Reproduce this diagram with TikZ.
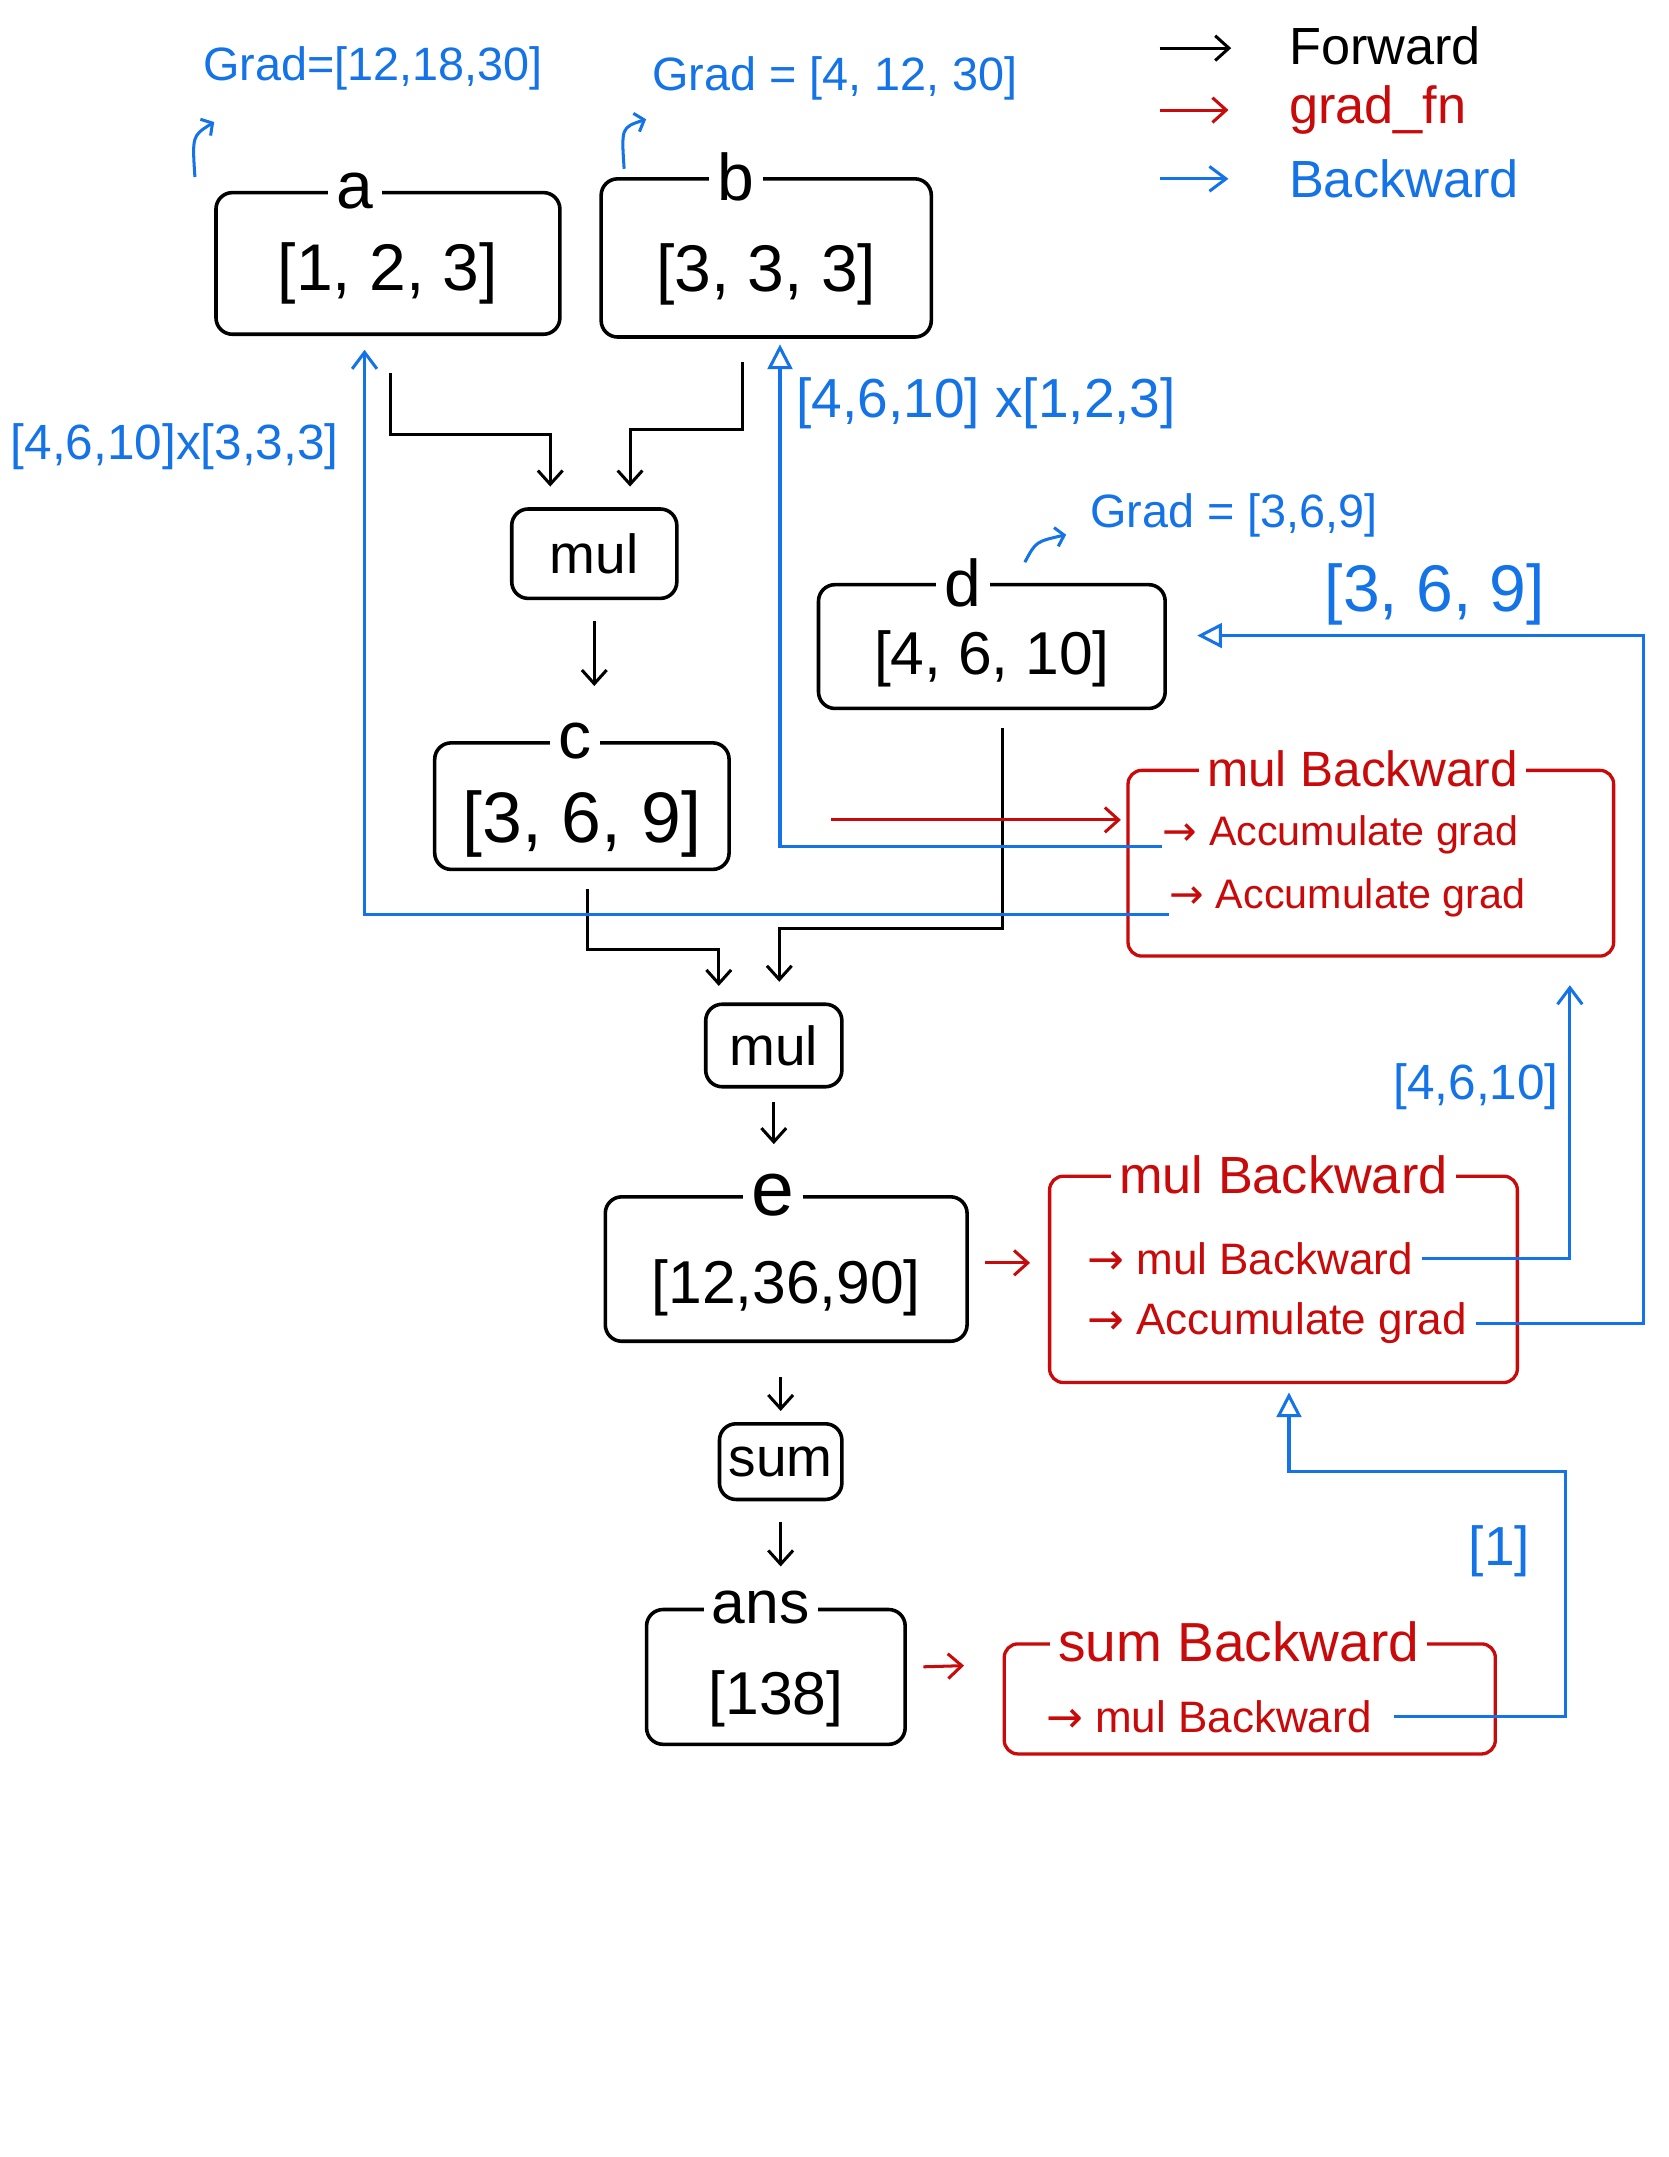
\documentclass[tikz,border=0pt]{standalone}
\usepackage{fontspec}
\setmainfont{Liberation Sans}
\newfontfamily\symf{DejaVu Sans}
\usetikzlibrary{arrows.meta,calc}
\definecolor{bwdblue}{RGB}{20,115,230}
\definecolor{gradred}{RGB}{200,10,10}
\newcommand{\fsz}[1]{\fontsize{#1}{#1}\selectfont}
\newcommand{\ar}{{\symf →}}
\begin{document}
\begin{tikzpicture}[x=0.5pt,y=-0.5pt,
  box/.style={draw, line width=1.3pt, rounded corners=6pt, inner sep=0pt},
  rbox/.style={draw=gradred, line width=1.2pt, rounded corners=5pt, inner sep=0pt},
  lbl/.style={fill=white, inner sep=3pt},
  rtxt/.style={text=gradred},
  btxt/.style={text=bwdblue},
  fwd/.style={draw, line width=1.1pt, -{Straight Barb[length=5pt,width=9pt]}},
  fn/.style={draw=gradred, line width=1.1pt, -{Straight Barb[length=5pt,width=9pt]}},
  bwd/.style={draw=bwdblue, line width=1.1pt, -{Straight Barb[length=6pt,width=9pt]}},
  bwdtri/.style={draw=bwdblue, line width=1.1pt, -{Triangle[open,length=9pt,width=9pt]}}
]
\useasboundingbox[fill=white] (0,0) rectangle (1213,1568);

% legend
\node[anchor=west, font=\fsz{19}] (lf) at (930,33) {Forward};
\node[anchor=west, rtxt, font=\fsz{19}] (lg) at (930,80) {grad\_fn};
\node[anchor=west, btxt, font=\fsz{19}] (lb) at (930,130) {Backward};
\draw[fwd] ([xshift=-43.5pt,yshift=-1pt]lf.west) -- ([xshift=-17.5pt,yshift=-1pt]lf.west);
\draw[fn] ([xshift=-43.5pt]lg.west) -- ([xshift=-18.5pt]lg.west);
\draw[bwd] ([xshift=-43.5pt]lb.west) -- ([xshift=-18.5pt]lb.west);

% grad labels
\node[btxt, font=\fsz{17}] (ga) at (271,50) {Grad=[12,18,30]};
\node[btxt, font=\fsz{17}] (gb) at (607,57) {Grad = [4, 12, 30]};
\node[btxt, font=\fsz{17}] (gd) at (897,375) {Grad = [3,6,9]};

% tensor / op boxes
\node[box, minimum width=125pt, minimum height=51.5pt] (a) at (282,191.5) {};
\node[font=\fsz{24}] (av) at ([yshift=-3.5pt]a.center) {[1, 2, 3]};
\node[lbl, font=\fsz{24}] (alab) at ([xshift=-12pt]a.north) {a};
\node[box, minimum width=120pt, minimum height=57.5pt] (b) at (557,187.5) {};
\node[font=\fsz{24}] (bv) at ([yshift=-6pt]b.center) {[3, 3, 3]};
\node[lbl, font=\fsz{24}] (blab) at ([xshift=-11pt]b.north) {b};
\node[box, minimum width=60pt, minimum height=32.5pt, font=\fsz{20}] (m1) at (432,402.5) {mul};
\node[box, minimum width=107pt, minimum height=46pt] (c) at (423,586) {};
\node[font=\fsz{26}] (cv) at ([yshift=-6.5pt]c.center) {[3, 6, 9]};
\node[lbl, font=\fsz{24}] (clab) at ([xshift=-2.5pt]c.north) {c};
\node[box, minimum width=126pt, minimum height=45pt] (d) at (721,470) {};
\node[font=\fsz{22}] (dv) at ([yshift=-4.5pt]d.center) {[4, 6, 10]};
\node[lbl, font=\fsz{24}] (dlab) at ([xshift=-10.5pt]d.north) {d};
\node[box, minimum width=49.5pt, minimum height=30pt, font=\fsz{20}] (m2) at (562.5,760) {mul};
\node[box, minimum width=131.5pt, minimum height=52.5pt] (e) at (571.5,922.5) {};
\node[font=\fsz{22}] (ev) at ([yshift=-7pt]e.center) {[12,36,90]};
\node[lbl, font=\fsz{28}] (elab) at ([xshift=-4.75pt]e.north) {e};
\node[box, minimum width=44.5pt, minimum height=27.5pt, font=\fsz{20}] (sum) at (567.5,1062.5) {sum};
\node[box, minimum width=94pt, minimum height=49pt] (ans) at (564,1219) {};
\node[font=\fsz{22}] (ansv) at ([yshift=-8pt]ans.center) {[138]};
\node[lbl, font=\fsz{22}] (anslab) at ([xshift=-5.5pt]ans.north) {ans};

% grad_fn boxes
\node[rbox, minimum width=176.5pt, minimum height=67.5pt] (mb1) at (996.5,627.5) {};
\node[lbl, rtxt, font=\fsz{18}] (mb1t) at ([xshift=-3pt]mb1.north) {mul Backward};
\node[rtxt, anchor=west, inner sep=0pt, font=\fsz{15}] (acc1) at (845,607) {\ar\ Accumulate grad};
\node[rtxt, anchor=west, inner sep=0pt, font=\fsz{15}] (acc2) at (850,653) {\ar\ Accumulate grad};

\node[rbox, minimum width=170pt, minimum height=75pt] (mb2) at (933,930) {};
\node[lbl, rtxt, font=\fsz{19}] (mb2t) at (mb2.north) {mul Backward};
\node[rtxt, anchor=west, inner sep=0pt, font=\fsz{16}] (mb2l1) at (790,915) {\ar\ mul Backward};
\node[rtxt, anchor=west, inner sep=0pt, font=\fsz{16}] (mb2l2) at (790,962) {\ar\ Accumulate grad};

\node[rbox, minimum width=178.5pt, minimum height=40pt] (sb) at (908.5,1235) {};
\node[lbl, rtxt, font=\fsz{20}] (sbt) at ([xshift=-4pt]sb.north) {sum Backward};
\node[rtxt, anchor=west, inner sep=0pt, font=\fsz{16}] (sbl) at (760,1248) {\ar\ mul Backward};

% forward connectors
\draw[fwd, shorten <=13.5pt, shorten >=7.5pt] ([xshift=1pt]a.south) -- ([xshift=1pt]a.south |- 0,316) -| ([xshift=-16pt]m1.north);
\draw[fwd, shorten <=8.5pt, shorten >=7.5pt] ([xshift=-8.5pt]b.south) -- ([xshift=-8.5pt]b.south |- 0,312) -| ([xshift=13pt]m1.north);
\draw[fwd, shorten <=7.5pt, shorten >=20pt] (m1.south) -- (m1.south |- c.north);
\draw[fwd, shorten <=6.5pt, shorten >=6pt] ([xshift=2pt]c.south) -- ([xshift=2pt]c.south |- 0,690) -| ([xshift=-20pt]m2.north);
\draw[fwd, shorten <=6.5pt, shorten >=7.5pt] ([xshift=4pt]d.south) -- ([xshift=4pt]d.south |- 0,675) -| ([xshift=2pt]m2.north);
\draw[fwd, shorten <=5pt, shorten >=18.5pt] (m2.south) -- (m2.south |- e.north);
\draw[fwd, shorten <=12.5pt, shorten >=4pt] (sum.north |- e.south) -- (sum.north);
\draw[fwd, shorten <=7.5pt, shorten >=15pt] (sum.south) -- (sum.south |- ans.north);

% grad_fn connectors
\draw[fn, shorten <=36.5pt, shorten >=2pt] (c.east |- 0,596) -- (mb1.west |- 0,596);
\draw[fn, shorten <=6pt, shorten >=6.5pt] (e.east |- 0,918) -- (mb2.west |- 0,918);
\draw[fn, shorten <=6pt, shorten >=14pt] (ans.east |- 0,1212) -- (sb.west |- 0,1210);

% backward connectors
\draw[bwdtri, shorten >=2pt] ([yshift=-4pt]acc1.west) -| ([xshift=5pt]b.south);
\node[btxt, anchor=west, font=\fsz{20}] (lbl1) at (572,293) {[4,6,10] x[1,2,3]};
\draw[bwd, shorten >=5pt] ([yshift=-6pt]acc2.west) -| ([xshift=-8.5pt]a.south);
\node[btxt, font=\fsz{18}] (lbl2) at (127,325) {[4,6,10]x[3,3,3]};
\draw[bwd, shorten <=3pt, shorten >=10pt] (mb2l1.east) -| ($(mb1.south east)+(-33,0)$);
\node[btxt, font=\fsz{18}] (lbl3) at (1073,790) {[4,6,10]};
\draw[bwdtri, shorten <=3pt, shorten >=11pt] (mb2l2.east) -- (mb2l2.east -| 1195,0) |- ([yshift=4pt]d.east);
\node[btxt, font=\fsz{24}] (lbl4) at (1043,432) {[3, 6, 9]};
\draw[bwdtri, shorten <=8pt, shorten >=3pt] (sbl.east) -| (1138,1070) -| ([xshift=2pt]mb2.south);
\node[btxt, font=\fsz{20}] (lbl5) at (1090,1128) {[1]};

% small grad hooks
\draw[bwd, -{Straight Barb[length=3pt,width=7pt]}] ([xshift=-7pt,yshift=5pt]a.north west) .. controls ([xshift=-8pt,yshift=20pt]a.north west) .. ([xshift=0pt,yshift=25pt]a.north west);
\draw[bwd, -{Straight Barb[length=3pt,width=7pt]}] ([xshift=9pt,yshift=3pt]b.north west) .. controls ([xshift=8pt,yshift=18pt]b.north west) .. ([xshift=17pt,yshift=21pt]b.north west);
\draw[bwd, -{Straight Barb[length=3pt,width=7pt]}] ([xshift=12pt,yshift=7.5pt]d.north) .. controls ([xshift=16pt,yshift=15pt]d.north) .. ([xshift=27pt,yshift=17.5pt]d.north);
\end{tikzpicture}
\end{document}
